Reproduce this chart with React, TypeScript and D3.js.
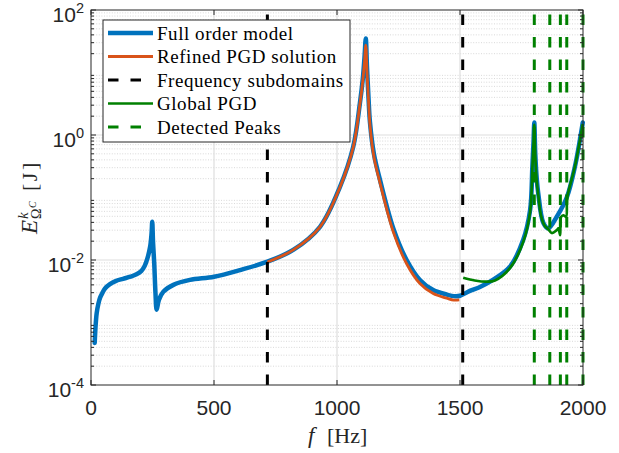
import React from 'react';
import * as d3 from 'd3';

// ---- data ----
const fullFreq = [15, 18, 23, 30, 37, 47, 57, 77, 100, 130, 160, 185, 205, 218, 229, 240, 246, 249, 252, 257, 262, 267, 276, 294, 335, 402, 500, 606, 714, 822, 931, 1012, 1066, 1093, 1105, 1112, 1117, 1122, 1128, 1134, 1150, 1175, 1229, 1283, 1337, 1391, 1446, 1480, 1500, 1540, 1581, 1622, 1703, 1757, 1785, 1794, 1799, 1802, 1806, 1812, 1818, 1839, 1859, 1893, 1934, 1967, 1999];
const fullVal = [4.7e-4, 8e-4, 1.4e-3, 2.0e-3, 2.5e-3, 3.0e-3, 3.5e-3, 4.1e-3, 4.6e-3, 5.0e-3, 5.4e-3, 5.9e-3, 6.7e-3, 8.0e-3, 1.05e-2, 1.6e-2, 2.6e-2, 4.1e-2, 2.0e-2, 8.9e-3, 3.0e-3, 1.6e-3, 2.3e-3, 3.1e-3, 4.0e-3, 4.8e-3, 5.4e-3, 6.9e-3, 9.3e-3, 1.45e-2, 3.4e-2, 0.148, 0.65, 3.2, 8, 18, 35, 12, 4, 1.6, 0.5, 0.19, 3.2e-2, 1.0e-2, 4.8e-3, 3.3e-3, 2.8e-3, 2.63e-3, 2.68e-3, 3.2e-3, 3.7e-3, 4.5e-3, 7.8e-3, 2.1e-2, 6.3e-2, 0.3, 0.8, 1.58, 0.5, 0.2, 0.117, 3.9e-2, 3.2e-2, 4.9e-2, 0.10, 0.31, 1.58];

const refinedFreq = [717, 822, 931, 1012, 1066, 1093, 1105, 1112, 1117, 1122, 1128, 1134, 1150, 1175, 1229, 1283, 1337, 1391, 1446, 1475, 1497];
const refinedVal = [9.3e-3, 1.45e-2, 3.4e-2, 0.146, 0.64, 3.1, 7.5, 15, 27.5, 10, 3.6, 1.45, 0.45, 0.17, 2.8e-2, 8.7e-3, 4.2e-3, 2.9e-3, 2.45e-3, 2.28e-3, 2.3e-3];

const globalFreq = [1513, 1560, 1609, 1642, 1703, 1757, 1785, 1794, 1799, 1802, 1806, 1812, 1818, 1830, 1845, 1859, 1873, 1893, 1900, 1907, 1911, 1920, 1931, 1936, 1967, 1999];
const globalVal = [5.2e-3, 4.7e-3, 4.5e-3, 4.7e-3, 7.4e-3, 1.95e-2, 5.9e-2, 0.28, 0.75, 1.45, 0.45, 0.18, 0.11, 5.0e-2, 3.5e-2, 3.1e-2, 2.7e-2, 3.0e-2, 3.2e-2, 2.5e-2, 4.9e-2, 5.2e-2, 4.9e-2, 0.10, 0.31, 1.5];

const subdomainBounds = [717, 1511];
const detectedPeaks = [1802, 1865, 1908, 1934, 2000];

const xTicks = [0, 500, 1000, 1500, 2000];
const yTickExps = [-4, -2, 0, 2];

const legendLabels = ['Full order model', 'Refined PGD solution', 'Frequency subdomains', 'Global PGD', 'Detected Peaks'];
const legendColors = ['#0072BD', '#D95319', '#000000', '#008000', '#008000'];
const legendWidths = [4.5, 2.8, 3, 2.7, 3];
const legendDashed = [false, false, true, false, true];

export default function App() {
  const W = 619, H = 453;
  const L = 91, R = 583, T = 10, B = 385;
  const x = d3.scaleLinear().domain([0, 2000]).range([L, R]);
  const y = d3.scaleLog().domain([1e-4, 1e2]).range([B, T]);
  const line = d3.line<number[]>().x(d => x(d[0])).y(d => y(d[1])).curve(d3.curveCatmullRom.alpha(0.5));

  const full = fullFreq.map((f, i) => [f, fullVal[i]]);
  const refined = refinedFreq.map((f, i) => [f, refinedVal[i]]);
  const glob = globalFreq.map((f, i) => [f, globalVal[i]]);

  const minorY: number[] = [];
  for (let k = -4; k < 2; k++) for (let m = 2; m <= 9; m++) minorY.push(m * Math.pow(10, k));
  const majorY = yTickExps.map(e => Math.pow(10, e));

  const axisColor = '#262626';
  const dash = '10.5,12';
  const sans = 'Liberation Sans, Arial, sans-serif';
  const serif = 'Liberation Serif, Times New Roman, serif';

  const vLine = (f: number) => `M${x(f)},${y(1e-4)}L${x(f)},${y(1e2)}`;

  const legX = 103, legY = 20, legW = 247, legH = 122;
  const rowY = (i: number) => 33 + i * 23.5;

  return (
    <svg width={W} height={H} style={{ position: 'absolute', left: 0, top: 0, background: '#fff' }}>
      <rect x={0} y={0} width={W} height={H} fill="#fff" />
      <rect x={L} y={T} width={R - L} height={B - T} fill="#fff" />
      {/* minor y grid */}
      {minorY.map((v, i) => (
        <line key={'my' + i} x1={L} x2={R} y1={y(v)} y2={y(v)} stroke="#cfcfcf" strokeWidth={0.8} strokeDasharray="1,1.6" />
      ))}
      {/* major grid */}
      {majorY.slice(1, 3).map((v, i) => (
        <line key={'gy' + i} x1={L} x2={R} y1={y(v)} y2={y(v)} stroke="#dedede" strokeWidth={1.2} />
      ))}
      {xTicks.slice(1, 4).map((t, i) => (
        <line key={'gx' + i} x1={x(t)} x2={x(t)} y1={T} y2={B} stroke="#dedede" strokeWidth={1.2} />
      ))}

      {/* data */}
      <path d={line(full) || ''} fill="none" stroke="#0072BD" strokeWidth={4.5} strokeLinejoin="round" strokeLinecap="round" />
      <path d={line(refined) || ''} fill="none" stroke="#D95319" strokeWidth={2.8} strokeLinejoin="round" />
      {subdomainBounds.map((f, i) => (
        <path key={'sd' + i} d={vLine(f)} stroke="#000" strokeWidth={3} strokeDasharray={dash} fill="none" />
      ))}
      <path d={line(glob) || ''} fill="none" stroke="#008000" strokeWidth={2.7} strokeLinejoin="round" />
      {detectedPeaks.map((f, i) => (
        <path key={'dp' + i} d={vLine(f)} stroke="#008000" strokeWidth={3} strokeDasharray={dash} fill="none" />
      ))}

      {/* axes box */}
      <rect x={L} y={T} width={R - L} height={B - T} fill="none" stroke={axisColor} strokeWidth={1} />
      {/* x ticks */}
      {xTicks.map((t, i) => (
        <g key={'xt' + i}>
          <line x1={x(t)} x2={x(t)} y1={B} y2={B - 5} stroke={axisColor} />
          <line x1={x(t)} x2={x(t)} y1={T} y2={T + 5} stroke={axisColor} />
          <text x={x(t)} y={415} textAnchor="middle" fontFamily={sans} fontSize={21} fill="#262626">{t}</text>
        </g>
      ))}
      {/* y ticks */}
      {majorY.map((v, i) => (
        <g key={'yt' + i}>
          <line x1={L} x2={L + 5} y1={y(v)} y2={y(v)} stroke={axisColor} />
          <line x1={R} x2={R - 5} y1={y(v)} y2={y(v)} stroke={axisColor} />
          <text x={84} y={y(v) + 11.5} textAnchor="end" fontFamily={sans} fontSize={21} fill="#262626">
            10<tspan dy={-8.5} fontSize={14.5}>{yTickExps[i]}</tspan>
          </text>
        </g>
      ))}
      {minorY.map((v, i) => (
        <g key={'ymt' + i}>
          <line x1={L} x2={L + 3} y1={y(v)} y2={y(v)} stroke={axisColor} />
          <line x1={R} x2={R - 3} y1={y(v)} y2={y(v)} stroke={axisColor} />
        </g>
      ))}

      {/* x label */}
      <text x={x(1000) - 29} y={443} fontFamily={serif} fontSize={23} fontStyle="italic" fill="#262626">f</text>
      <text x={x(1000) - 10} y={443} fontFamily={serif} fontSize={22} fill="#262626">[Hz]</text>

      {/* y label */}
      <g transform="translate(37,234) rotate(-90)" fill="#262626" fontFamily={serif}>
        <text x={0} y={0} fontSize={23} fontStyle="italic">E</text>
        <text x={15} y={-9} fontSize={15} fontStyle="italic">k</text>
        <text x={15} y={4} fontSize={14}>Ω</text>
        <text x={26} y={-1} fontSize={10} fontStyle="italic">C</text>
        <text x={43} y={0} fontSize={22} letterSpacing={2.5}>[J]</text>
      </g>

      {/* legend */}
      <rect x={legX} y={legY} width={legW} height={legH} fill="#fff" stroke={axisColor} strokeWidth={1} />
      {legendLabels.map((lab, i) => (
        <g key={'lg' + i}>
          <line x1={108} x2={153} y1={rowY(i)} y2={rowY(i)} stroke={legendColors[i]} strokeWidth={legendWidths[i]}
            strokeDasharray={legendDashed[i] ? dash : undefined} />
          <text x={157} y={rowY(i) + 6.5} fontFamily={serif} fontSize={19} letterSpacing={0.55} fill="#000">{lab}</text>
        </g>
      ))}
    </svg>
  );
}
